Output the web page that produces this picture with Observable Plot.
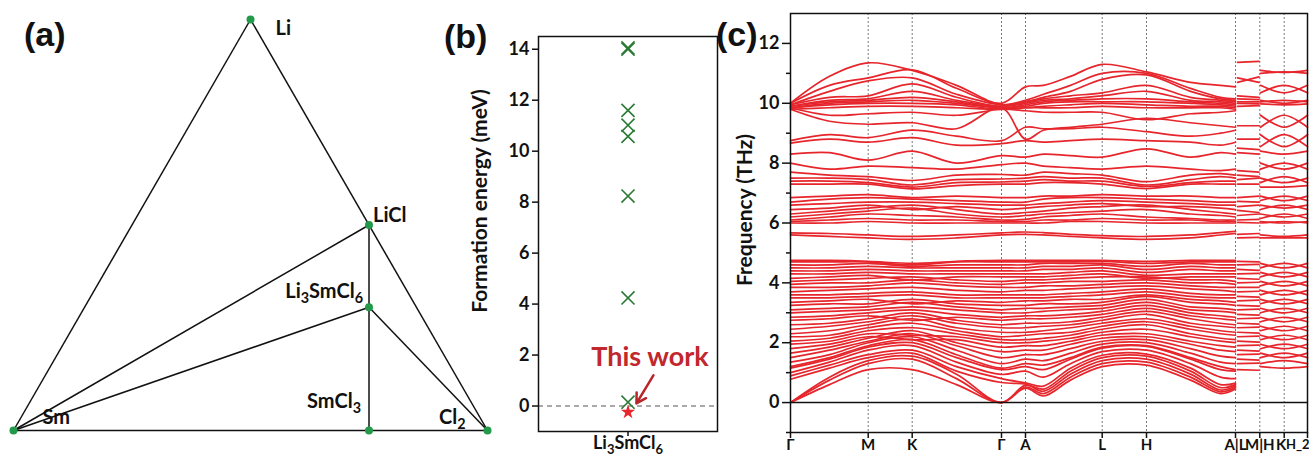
<!DOCTYPE html>
<html><head><meta charset="utf-8">
<script src="https://cdn.jsdelivr.net/npm/d3@7"></script>
<script src="https://cdn.jsdelivr.net/npm/@observablehq/plot@0.6"></script>
<style>
html,body{margin:0;padding:0;background:#fff;}
#wrap{position:relative;width:1309px;height:458px;overflow:hidden;background:#fff;}
.panel{position:absolute;top:0;}
.tag{position:absolute;font:bold 34px "Liberation Sans",Arial,sans-serif;line-height:34px;color:#111;}
</style></head><body>
<div id="wrap">
  <div id="pa" class="panel" style="left:0;width:500px"></div>
  <div id="pb" class="panel" style="left:430px;width:300px"></div>
  <div id="pc" class="panel" style="left:700px;width:609px"></div>
  <div class="tag" style="left:24px;top:17px">(a)</div>
  <div class="tag" style="left:444px;top:19px">(b)</div>
  <div class="tag" style="left:716px;top:17px">(c)</div>
</div>
<script>
// ---------- (a) ternary phase diagram ----------
const phases = ["Li", "Sm", "Cl₂", "LiCl", "SmCl₃", "Li₃SmCl₆"];
const fracLi = [1, 0, 0, 0.5, 0, 0.3];
const fracSm = [0, 1, 0, 0, 0.25, 0.1];
const fracCl = [0, 0, 1, 0.5, 0.75, 0.6];
const tieLines = [["Li","Sm"],["Li","Cl₂"],["Sm","Cl₂"],["Sm","LiCl"],["Sm","Li₃SmCl₆"],["LiCl","SmCl₃"],["Li₃SmCl₆","Cl₂"]];

// ---------- (b) formation energies ----------
const compound = "Li₃SmCl₆";
const formationEnergies = [14.05, 14.0, 11.6, 11.02, 10.58, 8.24, 4.24, 0.15];
const thisWorkEnergy = [-0.24];
const formationTicks = [0, 2, 4, 6, 8, 10, 12, 14];

// ---------- (c) phonon dispersion ----------
const kTicks = [0, 77.7, 121.7, 211, 235, 311.7, 356, 445, 469.3, 493.7, 517];
const kLabels = ["Γ", "M", "K", "Γ", "A", "L", "H", "A|L", "M|H", "K", "H_2"];
const kPath1 = [0, 39, 77.7, 121.7, 166, 211, 235, 253, 280, 311.7, 356, 400, 430, 445];
const kLM = [447, 468.5];
const kHKH = [470, 493.7, 517];
const freqTicks = [0, 2, 4, 6, 8, 10, 12];
const freqMinorTicks = [-1, 1, 3, 5, 7, 9, 11];

const bandsPath1 = [
  [10.0, 10.9, 11.35, 11.1, 10.6, 10.0, 10.55, 10.6, 10.9, 11.3, 11.05, 10.7, 10.6, 10.55],
  [10.0, 10.6, 10.85, 11.12, 10.5, 9.95, 10.1, 10.3, 10.6, 11.0, 11.0, 10.5, 10.2, 10.15],
  [9.95, 10.4, 10.75, 10.85, 10.3, 9.95, 10.05, 10.2, 10.4, 10.8, 10.95, 10.4, 10.15, 10.1],
  [9.95, 10.2, 10.25, 10.65, 10.2, 9.9, 10.05, 10.15, 10.25, 10.35, 10.6, 10.2, 10.1, 10.05],
  [9.9, 10.1, 10.15, 10.4, 10.1, 9.9, 10.0, 10.1, 10.15, 10.25, 10.4, 10.1, 10.05, 10.0],
  [9.9, 10.05, 10.1, 10.2, 10.05, 9.85, 9.95, 10.05, 10.1, 10.15, 10.15, 10.05, 10.0, 9.95],
  [9.85, 10.0, 10.05, 10.1, 10.0, 9.85, 9.9, 10.0, 10.05, 10.05, 10.05, 10.0, 9.95, 9.9],
  [9.85, 9.95, 10.0, 10.0, 9.95, 9.8, 9.85, 9.9, 9.95, 10.0, 9.95, 9.9, 9.9, 9.85],
  [9.8, 9.85, 9.9, 9.9, 9.85, 9.8, 9.85, 9.85, 9.85, 9.9, 9.85, 9.85, 9.85, 9.8],
  [9.85, 9.6, 9.65, 9.7, 9.6, 9.8, 9.75, 9.7, 9.7, 9.7, 9.45, 9.65, 9.7, 9.75],
  [9.8, 9.4, 9.3, 9.35, 9.15, 9.85, 8.8, 9.1, 9.2, 9.3, 9.5, 9.35, 9.25, 9.2],
  [8.75, 8.95, 8.85, 9.1, 8.9, 8.75, 9.2, 9.15, 9.15, 9.2, 9.05, 8.9, 9.0, 9.1],
  [8.67, 8.8, 8.7, 8.85, 8.6, 8.65, 8.75, 8.7, 8.75, 8.8, 8.75, 8.7, 8.6, 8.7],
  [8.3, 8.35, 8.1, 8.4, 8.0, 8.25, 8.2, 8.3, 8.25, 8.2, 8.48, 8.2, 8.35, 8.3],
  [8.0, 7.8, 7.9, 7.85, 7.8, 7.95, 8.0, 7.9, 7.85, 7.8, 7.9, 7.8, 7.75, 7.8],
  [7.7, 7.6, 7.55, 7.42, 7.6, 7.62, 7.6, 7.7, 7.65, 7.6, 7.38, 7.6, 7.65, 7.6],
  [7.5, 7.5, 7.45, 7.27, 7.45, 7.47, 7.5, 7.55, 7.5, 7.5, 7.27, 7.45, 7.55, 7.5],
  [7.4, 7.4, 7.35, 7.2, 7.35, 7.37, 7.4, 7.45, 7.4, 7.4, 7.22, 7.35, 7.4, 7.4],
  [7.3, 7.3, 7.3, 7.14, 7.25, 7.3, 7.3, 7.35, 7.35, 7.3, 7.15, 7.3, 7.3, 7.3],
  [6.85, 6.9, 6.95, 6.85, 6.9, 6.85, 6.85, 6.9, 6.9, 6.95, 6.9, 6.9, 6.85, 6.85],
  [6.7, 6.8, 6.85, 6.8, 6.75, 6.7, 6.7, 6.8, 6.85, 6.85, 6.8, 6.75, 6.7, 6.7],
  [6.6, 6.65, 6.7, 6.7, 6.65, 6.6, 6.6, 6.65, 6.7, 6.75, 6.7, 6.65, 6.6, 6.6],
  [6.45, 6.5, 6.6, 6.45, 6.55, 6.45, 6.5, 6.55, 6.6, 6.65, 6.55, 6.55, 6.5, 6.45],
  [6.3, 6.4, 6.5, 6.6, 6.45, 6.3, 6.35, 6.4, 6.5, 6.55, 6.6, 6.45, 6.35, 6.3],
  [6.2, 6.3, 6.4, 6.5, 6.3, 6.2, 6.25, 6.3, 6.35, 6.4, 6.45, 6.3, 6.25, 6.2],
  [6.1, 6.2, 6.3, 6.25, 6.2, 6.1, 6.12, 6.2, 6.25, 6.3, 6.2, 6.15, 6.1, 6.1],
  [6.05, 6.1, 6.15, 6.1, 6.1, 6.05, 6.05, 6.1, 6.1, 6.15, 6.1, 6.1, 6.05, 6.05],
  [6.0, 6.0, 6.05, 6.0, 6.0, 6.0, 6.0, 6.0, 6.05, 6.05, 6.0, 6.0, 6.0, 6.0],
  [5.67, 5.65, 5.6, 5.55, 5.6, 5.67, 5.7, 5.68, 5.62, 5.58, 5.55, 5.6, 5.68, 5.72],
  [5.6, 5.55, 5.5, 5.45, 5.5, 5.6, 5.62, 5.6, 5.55, 5.5, 5.45, 5.5, 5.6, 5.65],
  [4.75, 4.75, 4.72, 4.65, 4.72, 4.75, 4.75, 4.75, 4.75, 4.75, 4.72, 4.75, 4.75, 4.75],
  [4.7, 4.7, 4.7, 4.6, 4.7, 4.7, 4.7, 4.7, 4.7, 4.72, 4.65, 4.7, 4.7, 4.7],
  [4.6, 4.6, 4.65, 4.55, 4.6, 4.6, 4.6, 4.65, 4.65, 4.65, 4.55, 4.65, 4.6, 4.6],
  [4.5, 4.5, 4.55, 4.5, 4.5, 4.5, 4.5, 4.55, 4.55, 4.6, 4.45, 4.55, 4.5, 4.5],
  [4.4, 4.4, 4.45, 4.4, 4.4, 4.4, 4.4, 4.45, 4.45, 4.5, 4.35, 4.45, 4.4, 4.4],
  [4.3, 4.3, 4.35, 4.3, 4.3, 4.3, 4.3, 4.3, 4.35, 4.4, 4.25, 4.3, 4.3, 4.3],
  [4.15, 4.2, 4.25, 4.1, 4.2, 4.2, 4.2, 4.2, 4.25, 4.3, 4.15, 4.2, 4.2, 4.2],
  [4.05, 4.1, 4.15, 4.2, 4.1, 4.05, 4.1, 4.1, 4.15, 4.2, 4.2, 4.1, 4.1, 4.05],
  [3.95, 4.0, 4.0, 4.1, 4.0, 3.95, 4.0, 4.0, 4.05, 4.05, 4.1, 4.0, 4.0, 3.95],
  [3.85, 3.85, 3.9, 4.0, 3.9, 3.85, 3.85, 3.9, 3.9, 3.95, 4.0, 3.9, 3.85, 3.85],
  [3.7, 3.75, 3.8, 3.85, 3.75, 3.7, 3.75, 3.75, 3.8, 3.85, 3.9, 3.8, 3.75, 3.7],
  [3.6, 3.6, 3.65, 3.7, 3.6, 3.6, 3.6, 3.6, 3.65, 3.7, 3.8, 3.65, 3.6, 3.6],
  [3.5, 3.5, 3.55, 3.6, 3.5, 3.5, 3.5, 3.5, 3.55, 3.6, 3.7, 3.55, 3.5, 3.5],
  [3.35, 3.4, 3.45, 3.3, 3.4, 3.35, 3.4, 3.4, 3.45, 3.45, 3.6, 3.45, 3.4, 3.35],
  [3.25, 3.3, 3.3, 3.45, 3.3, 3.25, 3.25, 3.3, 3.3, 3.35, 3.55, 3.35, 3.3, 3.25],
  [3.1, 3.15, 3.2, 3.35, 3.2, 3.1, 3.15, 3.15, 3.2, 3.25, 3.45, 3.2, 3.15, 3.1],
  [3.0, 3.05, 3.1, 3.2, 3.1, 3.0, 3.0, 3.05, 3.1, 3.15, 3.35, 3.1, 3.05, 3.0],
  [2.85, 2.9, 3.0, 3.1, 2.95, 2.85, 2.9, 2.9, 2.95, 3.05, 3.25, 3.0, 2.9, 2.85],
  [2.75, 2.8, 2.9, 2.75, 2.85, 2.75, 2.8, 2.8, 2.85, 2.95, 3.15, 2.9, 2.8, 2.75],
  [2.6, 2.65, 2.8, 3.0, 2.75, 2.6, 2.65, 2.65, 2.7, 2.85, 3.05, 2.8, 2.65, 2.6],
  [2.45, 2.55, 2.7, 2.9, 2.65, 2.5, 2.5, 2.55, 2.6, 2.75, 2.95, 2.65, 2.55, 2.5],
  [2.3, 2.4, 2.6, 2.8, 2.5, 2.35, 2.35, 2.4, 2.5, 2.65, 2.8, 2.55, 2.4, 2.35],
  [2.2, 2.25, 2.5, 2.65, 2.4, 2.2, 2.25, 2.3, 2.35, 2.55, 2.7, 2.45, 2.3, 2.25],
  [2.05, 2.15, 2.4, 2.5, 2.3, 2.1, 2.1, 2.15, 2.25, 2.45, 2.6, 2.3, 2.15, 2.1],
  [1.95, 2.05, 2.3, 2.25, 2.2, 2.0, 2.0, 2.05, 2.15, 2.35, 2.45, 2.2, 2.05, 2.0],
  [1.8, 1.95, 2.2, 2.1, 2.1, 1.85, 1.9, 1.9, 2.05, 2.25, 2.3, 2.05, 1.9, 1.85],
  [1.65, 1.85, 2.15, 2.4, 2.0, 1.7, 1.75, 1.75, 1.95, 2.15, 2.2, 1.95, 1.75, 1.7],
  [1.5, 1.75, 2.05, 2.3, 1.9, 1.5, 1.6, 1.6, 1.8, 2.05, 2.1, 1.8, 1.55, 1.5],
  [1.35, 1.6, 2.0, 2.2, 1.75, 1.3, 1.45, 1.4, 1.65, 1.95, 2.0, 1.65, 1.35, 1.3],
  [1.2, 1.5, 1.9, 2.1, 1.6, 1.15, 1.3, 1.25, 1.5, 1.85, 1.9, 1.5, 1.2, 1.1],
  [1.15, 1.45, 1.85, 2.0, 1.5, 1.1, 1.2, 1.1, 1.45, 1.82, 1.88, 1.45, 1.1, 1.05],
  [1.0, 1.35, 1.75, 1.9, 1.35, 0.94, 1.05, 0.85, 1.3, 1.7, 1.75, 1.3, 0.85, 0.8],
  [0.89, 1.25, 1.6, 1.75, 1.2, 0.8, 0.66, 0.55, 1.15, 1.58, 1.62, 1.15, 0.6, 0.65],
  [0.78, 1.15, 1.5, 1.65, 1.05, 0.67, 0.62, 0.45, 1.05, 1.5, 1.55, 1.05, 0.5, 0.6],
  [0, 0.85, 1.4, 1.55, 0.95, 0, 0.58, 0.38, 0.95, 1.4, 1.45, 0.95, 0.42, 0.55],
  [0, 0.75, 1.3, 1.45, 0.8, 0, 0.52, 0.3, 0.85, 1.3, 1.35, 0.85, 0.36, 0.5],
  [0, 0.6, 1.1, 1.1, 0.6, 0, 0.48, 0.22, 0.75, 1.2, 1.25, 0.75, 0.3, 0.45]
];

const bandsLM = [
  [11.37, 11.4], [10.85, 10.7], [10.7, 10.88], [10.25, 10.2], [10.15, 10.12], [10.05, 10.05],
  [10.0, 9.98], [9.9, 9.92], [9.25, 9.25], [8.8, 8.8], [8.5, 8.45], [8.35, 8.3], [7.75, 7.7],
  [7.6, 7.55], [7.45, 7.5], [7.3, 7.3], [6.85, 6.9], [6.72, 6.7], [6.55, 6.6], [6.42, 6.35],
  [6.25, 6.3], [6.1, 6.12], [6.02, 6.0], [5.62, 5.65], [5.5, 5.52],
  [4.72, 4.7], [4.6, 4.62], [4.45, 4.42], [4.3, 4.32], [4.15, 4.12], [4.0, 4.02], [3.85, 3.85],
  [3.7, 3.72], [3.55, 3.52], [3.4, 3.42], [3.25, 3.22], [3.1, 3.12], [2.95, 2.92], [2.8, 2.82],
  [2.65, 2.62], [2.5, 2.52], [2.35, 2.32], [2.2, 2.22], [2.05, 2.02], [1.9, 1.92], [1.75, 1.72],
  [1.6, 1.62], [1.45, 1.42], [1.3, 1.32], [1.1, 1.08]
];

const bandsHKH = [
  [11.1, 11.03, 11.1], [11.0, 11.05, 11.0], [10.6, 10.35, 10.6], [10.35, 10.6, 10.35],
  [10.1, 10.0, 10.1], [10.05, 10.1, 10.05], [9.98, 9.95, 9.98], [9.6, 9.2, 9.6], [9.2, 9.6, 9.2],
  [8.95, 8.55, 8.95], [8.55, 8.95, 8.55], [8.4, 8.3, 8.4], [8.0, 7.8, 8.0], [7.8, 8.0, 7.8],
  [7.5, 7.35, 7.5], [7.35, 7.55, 7.35], [7.2, 7.2, 7.25],
  [6.9, 6.75, 6.9], [6.75, 6.9, 6.75], [6.6, 6.5, 6.6], [6.45, 6.6, 6.45], [6.3, 6.2, 6.3],
  [6.15, 6.3, 6.15], [6.05, 6.0, 6.05], [6.0, 6.05, 6.0], [5.6, 5.55, 5.6], [5.5, 5.5, 5.5],
  [4.65, 4.5, 4.65], [4.5, 4.65, 4.5], [4.35, 4.2, 4.35], [4.2, 4.35, 4.2], [4.05, 3.9, 4.05],
  [3.9, 4.05, 3.9], [3.75, 3.6, 3.75], [3.6, 3.75, 3.6], [3.45, 3.3, 3.45], [3.3, 3.45, 3.3],
  [3.15, 3.0, 3.15], [3.0, 3.15, 3.0], [2.85, 2.7, 2.85], [2.7, 2.85, 2.7], [2.55, 2.4, 2.55],
  [2.4, 2.55, 2.4], [2.25, 2.1, 2.25], [2.1, 2.25, 2.1], [1.95, 1.8, 1.95], [1.8, 1.95, 1.8],
  [1.65, 1.5, 1.65], [1.5, 1.65, 1.5], [1.3, 1.4, 1.3], [1.2, 1.15, 1.2]
];

// ---------------- helpers ----------------
const FONT = "Lato, 'Open Sans', 'DejaVu Sans', sans-serif";
const baseStyle = {fontFamily: FONT, fontWeight: "bold", background: "transparent", overflow: "visible", color: "#111"};
const SUB = /[\u2080-\u2089]/;
function subscriptify(svg) {
  const NS = "http://www.w3.org/2000/svg";
  svg.querySelectorAll("text").forEach(t => {
    const targets = t.querySelector("tspan") ? [...t.querySelectorAll("tspan")] : [t];
    targets.forEach(el => {
      const s = el.textContent;
      if (!SUB.test(s)) return;
      const fs = parseFloat(getComputedStyle(el).fontSize) || 18;
      const shift = 0.25 * fs;
      el.textContent = "";
      let shifted = false;
      s.match(/[\u2080-\u2089]+|[^\u2080-\u2089]+/g).forEach(p => {
        const ts = document.createElementNS(NS, "tspan");
        if (SUB.test(p)) {
          ts.textContent = [...p].map(c => String.fromCharCode(c.charCodeAt(0) - 0x2080 + 48)).join("");
          ts.setAttribute("font-size", (0.72 * fs).toFixed(1));
          if (!shifted) ts.setAttribute("dy", shift.toFixed(1));
          shifted = true;
        } else {
          ts.textContent = p;
          if (shifted) ts.setAttribute("dy", (-shift).toFixed(1));
          shifted = false;
        }
        el.appendChild(ts);
      });
    });
  });
}

// (a)
const S3 = Math.sqrt(3) / 2;
const pts = phases.map((name, i) => ({name, x: fracCl[i] + fracLi[i] / 2, y: fracLi[i] * S3}));
const byName = Object.fromEntries(pts.map(p => [p.name, p]));
const segs = tieLines.map(([a, b]) => ({x1: byName[a].x, y1: byName[a].y, x2: byName[b].x, y2: byName[b].y}));
const labelLayout = {
  "Li": {dx: 25, dy: 9, anchor: "start"},
  "LiCl": {dx: 4, dy: -9, anchor: "start"},
  "Li₃SmCl₆": {dx: -6, dy: -16, anchor: "end"},
  "SmCl₃": {dx: -8, dy: -29, anchor: "end"},
  "Sm": {dx: 29, dy: -13, anchor: "start"},
  "Cl₂": {dx: -22, dy: -13, anchor: "end"}
};
const plotA = Plot.plot({
  width: 500, height: 458,
  marginLeft: 13, marginRight: 13, marginTop: 19, marginBottom: 28,
  x: {domain: [0, 1], axis: null},
  y: {domain: [0, S3], axis: null},
  style: {...baseStyle, fontSize: "20px"},
  marks: [
    Plot.link(segs, {x1: "x1", y1: "y1", x2: "x2", y2: "y2", stroke: "#111", strokeWidth: 1.5}),
    Plot.dot(pts, {x: "x", y: "y", r: 4, fill: "#23994a", stroke: "none"}),
    ...phases.map(n => Plot.text([byName[n]], {
      x: "x", y: "y", text: "name",
      dx: labelLayout[n].dx, dy: labelLayout[n].dy, textAnchor: labelLayout[n].anchor,
      fill: "#111", fontSize: 20
    }))
  ]
});
document.getElementById("pa").append(plotA);

// (b)
const plotB = Plot.plot({
  width: 300, height: 458,
  marginLeft: 108, marginRight: 13, marginTop: 36, marginBottom: 27,
  x: {domain: [0, 1]},
  y: {domain: [-1, 14.5]},
  style: {...baseStyle, fontSize: "18px"},
  marks: [
    Plot.ruleY([0], {stroke: "#555", strokeDasharray: "5,4", strokeWidth: 1.2}),
    Plot.frame({stroke: "#111", strokeWidth: 1.5}),
    Plot.axisY({ticks: formationTicks, tickSize: 6, tickPadding: 3, label: null, strokeWidth: 1.5}),
    Plot.axisX({ticks: [0.5], tickFormat: () => compound, tickSize: 5, tickPadding: 0, label: null, fontSize: 18, strokeWidth: 1.5}),
    Plot.dot(formationEnergies, {x: () => 0.5, y: d => d, symbol: "times", r: 6, stroke: "#2b7a35", strokeWidth: 1.6}),
    Plot.dot(thisWorkEnergy, {x: () => 0.5, y: d => d, symbol: "star", r: 4.5, fill: "#e8262b", stroke: "none"}),
    Plot.text(["This work"], {x: () => 0.623, y: () => 1.91, text: d => d, fill: "#c1272d", fontSize: 27}),
    Plot.arrow([{x1: 0.642, y1: 1.2, x2: 0.547, y2: 0.1}], {x1: "x1", y1: "y1", x2: "x2", y2: "y2", stroke: "#b8252b", strokeWidth: 2.5, headLength: 9}),
    Plot.text(["Formation energy (meV)"], {text: d => d, frameAnchor: "left", textAnchor: "middle", rotate: -90, dx: -58, dy: -33, fontSize: 21, fill: "#111"})
  ]
});
document.getElementById("pb").append(plotB);

// (c)
const bandRows = [];
bandsPath1.forEach((b, j) => b.forEach((f, i) => bandRows.push({k: kPath1[i], f, band: "p" + j})));
bandsLM.forEach((b, j) => b.forEach((f, i) => bandRows.push({k: kLM[i], f, band: "lm" + j})));
bandsHKH.forEach((b, j) => b.forEach((f, i) => bandRows.push({k: kHKH[i], f, band: "hk" + j})));
const nK = kTicks.length;
const kLabelOf = new Map(kTicks.map((k, i) => [k, kLabels[i]]));
const tailTicks = kTicks.slice(nK - 2);  // K and H_2, drawn separately so they do not collide
const plotC = Plot.plot({
  width: 609, height: 458,
  marginLeft: 90, marginRight: 2, marginTop: 13, marginBottom: 26,
  x: {domain: [0, 517]},
  y: {domain: [-1, 13]},
  style: {...baseStyle, fontSize: "18px"},
  marks: [
    Plot.ruleX(kTicks.slice(1, -1), {stroke: "#777", strokeDasharray: "2,2", strokeWidth: 1}),
    Plot.line(bandRows, {x: "k", y: "f", z: "band", stroke: "#e6262c", strokeWidth: 1.7, curve: "catmull-rom"}),
    Plot.ruleY([0], {stroke: "#111", strokeWidth: 1.5}),
    Plot.frame({stroke: "#111", strokeWidth: 1.5}),
    Plot.axisY({ticks: freqTicks, tickSize: 8, tickPadding: 3, label: null, strokeWidth: 1.5}),
    Plot.axisY({ticks: freqMinorTicks, tickSize: 4, tickFormat: () => "", label: null, strokeWidth: 1.5}),
    Plot.axisX({ticks: kTicks, tickFormat: d => (tailTicks.includes(d) ? "" : kLabelOf.get(d)), tickSize: 6, tickPadding: 1, label: null, fontSize: 15, strokeWidth: 1.5}),
    Plot.text([tailTicks[0]], {x: d => d, y: () => -1, text: d => kLabelOf.get(d), textAnchor: "end", lineAnchor: "top", dx: 2, dy: 7, fontSize: 15, fill: "#111"}),
    Plot.text([tailTicks[1]], {x: d => d, y: () => -1, text: d => kLabelOf.get(d), textAnchor: "end", lineAnchor: "top", dx: 2, dy: 7, fontSize: 13, fill: "#111"}),
    Plot.text(["Frequency (THz)"], {text: d => d, frameAnchor: "left", textAnchor: "middle", rotate: -90, dx: -45, dy: -13, fontSize: 21, fill: "#111"})
  ]
});
document.getElementById("pc").append(plotC);

[plotA, plotB, plotC].forEach(subscriptify);
</script>
</body></html>
